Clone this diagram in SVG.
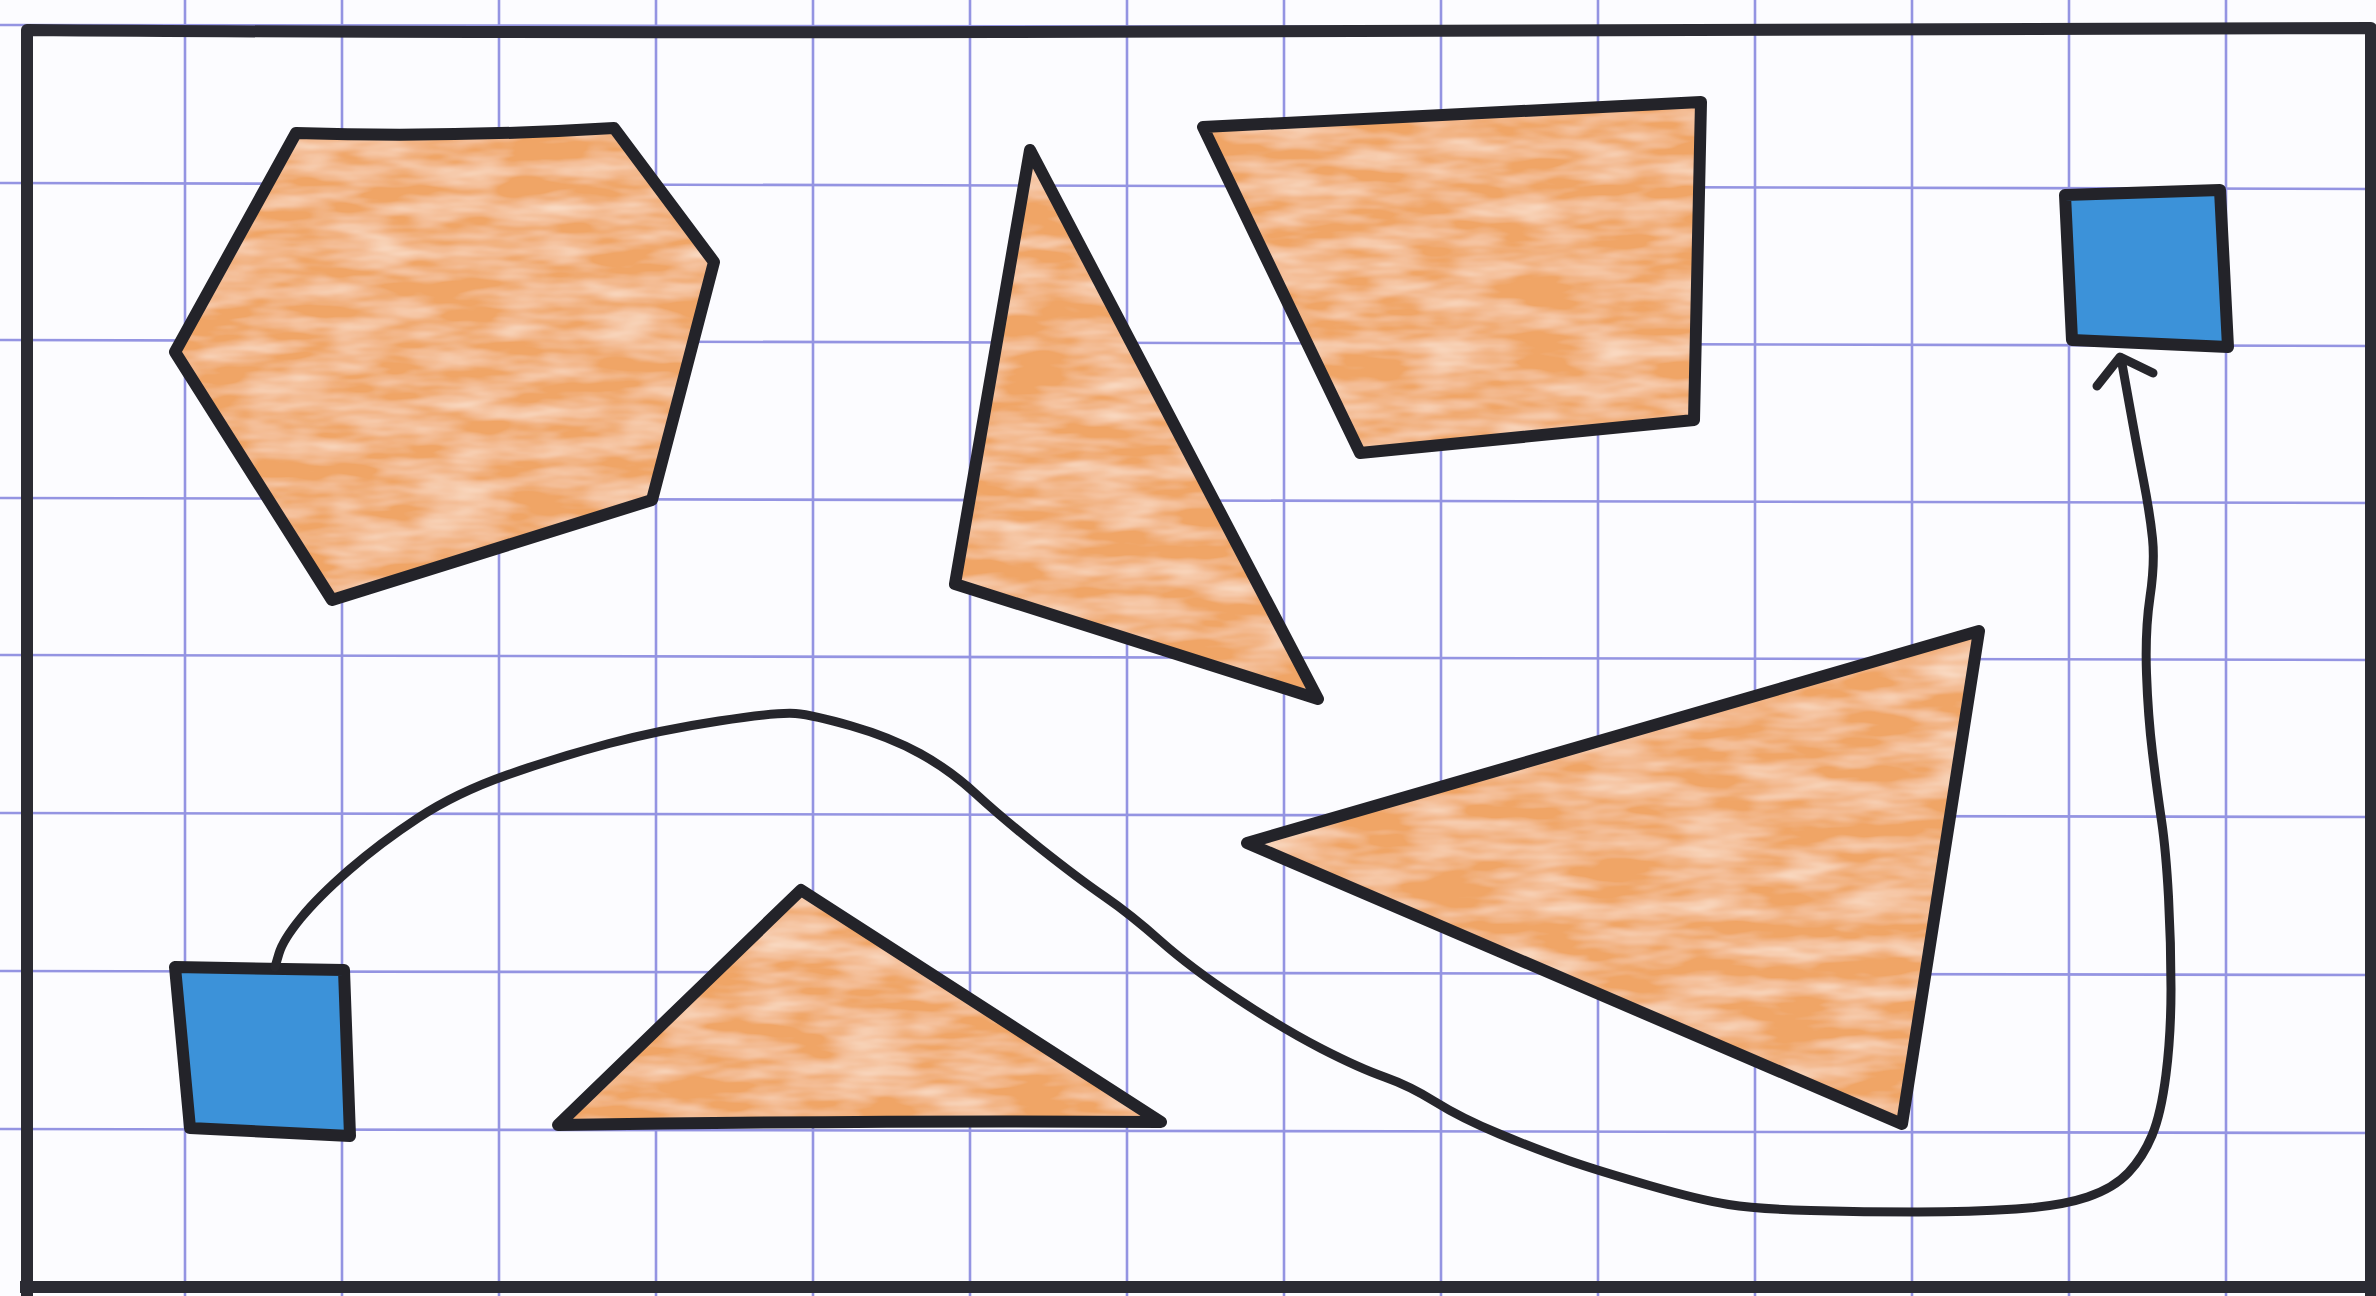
<svg xmlns="http://www.w3.org/2000/svg" width="2376" height="1296" viewBox="0 0 2376 1296">
  <style>
    .grid line { stroke: #9494e2; stroke-width: 2.6; }
    .border { fill: none; stroke: #2b2b33; stroke-width: 12; stroke-linejoin: round; }
    .fillo { fill: #F0A566; stroke: none; }
    .outline { fill: none; stroke: #232329; stroke-width: 12; stroke-linejoin: round; stroke-linecap: round; }
    .box { fill: #3C92D9; stroke: #232329; stroke-width: 12; stroke-linejoin: round; }
    .wire { fill: none; stroke: #26262c; stroke-width: 9; stroke-linecap: round; stroke-linejoin: round; }
  </style>
  <defs>
    <filter id="pencil" x="0" y="0" width="100%" height="100%">
      <feTurbulence type="fractalNoise" baseFrequency="0.012 0.05" numOctaves="3" seed="7" result="n"/>
      <feColorMatrix in="n" type="matrix" values="0 0 0 0 1  0 0 0 0 0.9  0 0 0 0 0.8  0 0 0 -1.1 0.72" result="w"/>
      <feComposite in="w" in2="SourceGraphic" operator="in" result="wm"/>
      <feMerge><feMergeNode in="SourceGraphic"/><feMergeNode in="wm"/></feMerge>
    </filter>
    <path id="p-hex" d="M296,133 Q450,138 614,128 L714,262 L652,500 L332,600 L175,352 Z"/>
    <path id="p-tall" d="M1030,150 L1318,699 L955,584 Z"/>
    <path id="p-quad" d="M1203,127 L1701,102 L1694,420 L1360,453 Z"/>
    <path id="p-big" d="M1247,843 L1979,631 L1902,1124 Z"/>
    <path id="p-bot" d="M801,890 L1161,1122 Q900,1120 558,1125 Z"/>
  </defs>

  <rect x="0" y="0" width="2376" height="1296" fill="#fcfcff"/>

  <g class="grid">
    <line x1="185" y1="0" x2="185" y2="1296"/>
    <line x1="342" y1="0" x2="342" y2="1296"/>
    <line x1="499" y1="0" x2="499" y2="1296"/>
    <line x1="656" y1="0" x2="656" y2="1296"/>
    <line x1="813" y1="0" x2="813" y2="1296"/>
    <line x1="970" y1="0" x2="970" y2="1296"/>
    <line x1="1127" y1="0" x2="1127" y2="1296"/>
    <line x1="1284" y1="0" x2="1284" y2="1296"/>
    <line x1="1441" y1="0" x2="1441" y2="1296"/>
    <line x1="1598" y1="0" x2="1598" y2="1296"/>
    <line x1="1755" y1="0" x2="1755" y2="1296"/>
    <line x1="1912" y1="0" x2="1912" y2="1296"/>
    <line x1="2069" y1="0" x2="2069" y2="1296"/>
    <line x1="2226" y1="0" x2="2226" y2="1296"/>
    <line x1="0" y1="25" x2="2376" y2="28"/>
    <line x1="0" y1="183" x2="2376" y2="189"/>
    <line x1="0" y1="340" x2="2376" y2="346"/>
    <line x1="0" y1="498" x2="2376" y2="503"/>
    <line x1="0" y1="655" x2="2376" y2="660"/>
    <line x1="0" y1="813" x2="2376" y2="817"/>
    <line x1="0" y1="971" x2="2376" y2="975"/>
    <line x1="0" y1="1129" x2="2376" y2="1133"/>
  </g>

  <path class="border" d="M27,1296 L27,30 Q400,33 1000,32 T2371,28 L2371,1296 M20,1287 L2376,1287"/>

  <g id="hexagon">
    <use href="#p-hex" class="fillo" filter="url(#pencil)"/>
    <use href="#p-hex" class="outline"/>
  </g>
  <g id="tall-triangle">
    <use href="#p-tall" class="fillo" filter="url(#pencil)"/>
    <use href="#p-tall" class="outline"/>
  </g>
  <g id="quadrilateral">
    <use href="#p-quad" class="fillo" filter="url(#pencil)"/>
    <use href="#p-quad" class="outline"/>
  </g>
  <g id="big-triangle">
    <use href="#p-big" class="fillo" filter="url(#pencil)"/>
    <use href="#p-big" class="outline"/>
  </g>
  <g id="bottom-triangle">
    <use href="#p-bot" class="fillo" filter="url(#pencil)"/>
    <use href="#p-bot" class="outline"/>
  </g>
  <g id="start-square">
    <path class="box" d="M175,967 L344,970 L350,1136 L190,1128 Z"/>
  </g>
  <g id="end-square">
    <path class="box" d="M2065,195 L2220,190 L2228,347 L2072,340 Z"/>
  </g>

  <g id="connectors">
    <path class="wire" d="M275,967 L279,953.5 Q283,940 300.5,918.5 Q318,897 349,870 Q380,843 418,818 Q456,793 507,775 Q558,757 609,743.5 Q660,730 719,721 Q778,712 795.5,713.5 Q813,715 851.5,726 Q890,737 920,753.5 Q950,770 976,794 Q1002,818 1040.5,848.5 Q1079,879 1104.5,896.5 Q1130,914 1160.5,941 Q1191,968 1237,998.5 Q1283,1029 1321,1048.5 Q1359,1068 1384.5,1077 Q1410,1086 1435.5,1102 Q1461,1118 1499.5,1134 Q1538,1150 1568.5,1160.5 Q1599,1171 1649.5,1185.5 Q1700,1200 1728.5,1204.5 Q1757,1209 1810.5,1210.5 Q1864,1212 1917.5,1212 Q1971,1212 2016,1209 Q2061,1206 2087.5,1197 Q2114,1188 2128.5,1172.5 Q2143,1157 2152,1135.5 Q2161,1114 2166,1074.5 Q2171,1035 2171,989 Q2171,943 2168.5,897 Q2166,851 2161.5,820.5 Q2157,790 2152.5,753 Q2148,716 2146.5,673.5 Q2145,631 2150,597 Q2155,563 2152.5,538.5 Q2150,514 2143.5,480.5 Q2137,447 2129,402.5 L2121,358"/>
    <path class="wire" stroke-width="11" d="M2097,386 L2120,357 L2153,373"/>
  </g>
</svg>
